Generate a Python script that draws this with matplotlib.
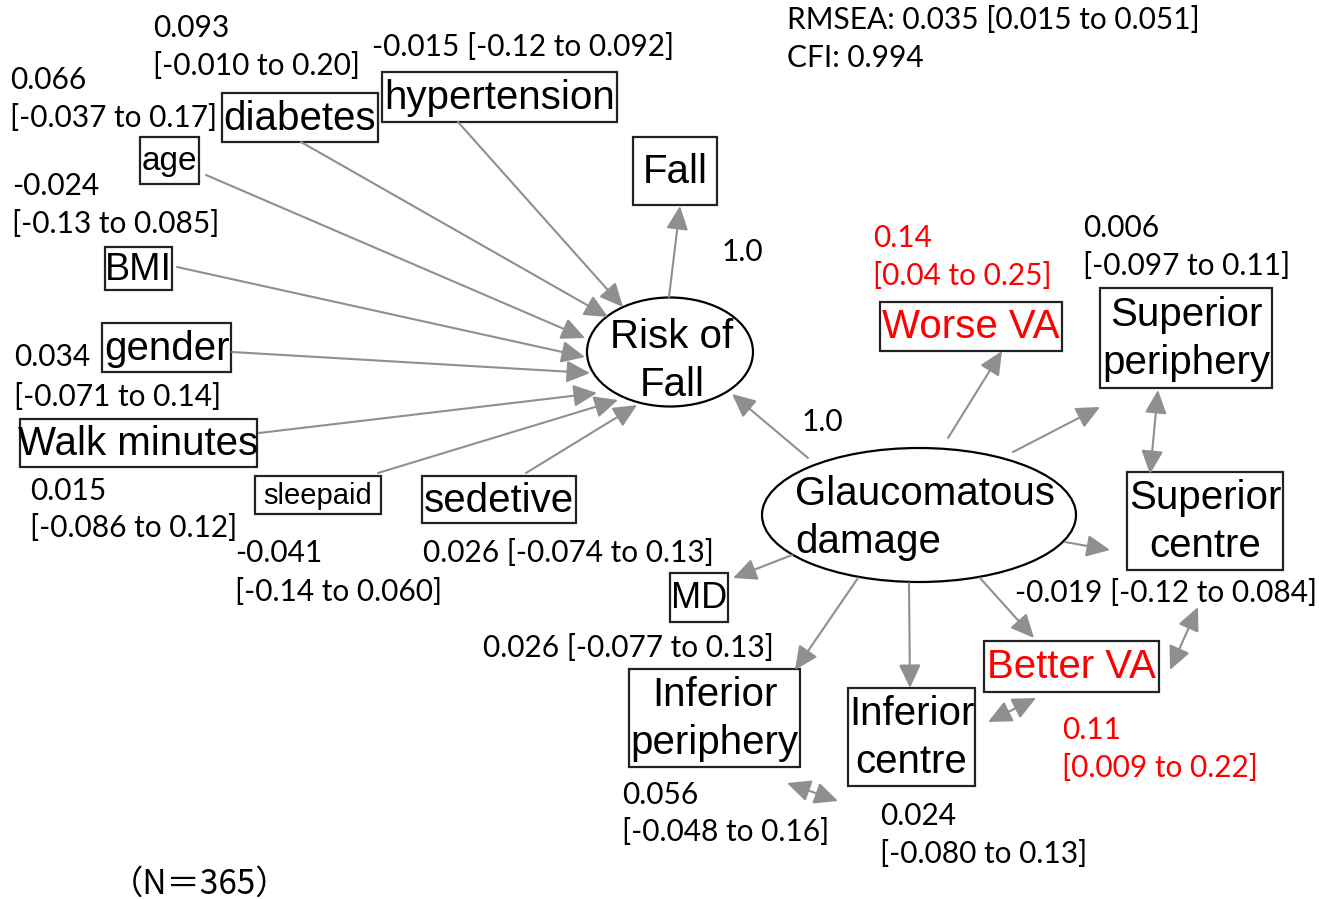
import matplotlib
matplotlib.use("Agg")
from matplotlib import pyplot as plt
from matplotlib.patches import Rectangle, Ellipse

plt.rcParams['font.family'] = ['Liberation Sans', 'DejaVu Sans']

# ---- data ----
predictors = ["hypertension", "diabetes", "age", "BMI", "gender",
              "Walk minutes", "sleepaid", "sedetive"]
pred_est = ["-0.015", "0.093", "0.066", "-0.024", "0.034", "0.015", "-0.041", "0.026"]
pred_lo = ["-0.12", "-0.010", "-0.037", "-0.13", "-0.071", "-0.086", "-0.14", "-0.074"]
pred_hi = ["0.092", "0.20", "0.17", "0.085", "0.14", "0.12", "0.060", "0.13"]

indicators = ["Worse VA", "Superior\nperiphery", "Superior\ncentre", "Better VA",
              "Inferior\ncentre", "Inferior\nperiphery", "MD"]
ind_est = ["0.14", "0.006", "-0.019", "0.11", "0.024", "0.056", "0.026"]
ind_lo = ["0.04", "-0.097", "-0.12", "0.009", "-0.080", "-0.048", "-0.077"]
ind_hi = ["0.25", "0.11", "0.084", "0.22", "0.13", "0.16", "0.13"]
ind_signif = [True, False, False, True, False, False, False]

loading_fall = "1.0"
loading_glauc = "1.0"
rmsea = "0.035"
rmsea_lo = "0.015"
rmsea_hi = "0.051"
cfi = "0.994"
n_obs = 365

# ---- layout (pixel coords, y down) ----
BOX = {
    "hypertension": (382, 72, 617, 122, 29),
    "diabetes": (222, 93, 378, 142, 29),
    "age": (140, 137, 199, 184, 24),
    "BMI": (105, 247, 172, 290, 27),
    "gender": (102, 323, 231, 372, 29),
    "Walk minutes": (20, 419, 257, 467, 29),
    "sleepaid": (255, 476, 381, 514, 21),
    "sedetive": (422, 476, 576, 523, 29),
    "Fall": (633, 137, 717, 205, 29),
    "Worse VA": (880, 302, 1062, 351, 29),
    "Superior\nperiphery": (1100, 288, 1272, 388, 29),
    "Superior\ncentre": (1127, 472, 1283, 570, 29),
    "Better VA": (984, 641, 1159, 692, 29),
    "Inferior\ncentre": (848, 688, 975, 786, 29),
    "Inferior\nperiphery": (629, 669, 800, 767, 29),
    "MD": (670, 573, 728, 622, 26),
}
# predictor arrow: start, tip
PRED_ARROW = [((458, 122), (623, 307)), ((301, 142), (608, 317)),
              ((206, 175), (585, 338)), ((177, 267), (585, 357)),
              ((232, 352), (590, 373)), ((259, 433), (597, 393)),
              ((378, 473), (618, 400)), ((526, 473), (637, 405))]
# label position: (x, y est, y ci, one line?)
PRED_LABEL = [(372, 47, 47, True), (153, 28, 66, False), (10, 80, 118, False),
              (12, 186, 224, False), (14, 357, 397, False), (30, 491, 528, False),
              (235, 553, 592, False), (423, 553, 553, True)]
IND_ARROW = [((948, 438), (1002, 351)), ((1013, 452), (1100, 407)),
             ((1065, 542), (1110, 550)), ((980, 578), (1034, 638)),
             ((909, 583), (910, 688)), ((858, 578), (795, 670)),
             ((792, 555), (733, 578))]
IND_LABEL = [(873, 238, 276, False), (1083, 228, 266, False), (1015, 593, 593, True),
             (1062, 730, 768, False), (880, 816, 854, False), (622, 795, 832, False),
             (483, 648, 648, True)]
COV_ARROW = [((1158, 390), (1150, 474)), ((1198, 607), (1170, 670)),
             ((1036, 698), (988, 722)), ((787, 783), (838, 801))]

GREY = "#8f8f8f"
NUMFONT = ['Lato', 'DejaVu Sans']
NUMSIZE = 21.5

fig = plt.figure(figsize=(13.19, 8.99), dpi=100)
ax = fig.add_axes([0, 0, 1, 1])
ax.set_xlim(0, 1319)
ax.set_ylim(899, 0)
ax.axis('off')


def arrow(p0, p1, both=False):
    style = '<|-|>' if both else '-|>'
    ax.annotate("", xy=p1, xytext=p0,
                arrowprops=dict(arrowstyle=style + ",head_length=0.6,head_width=0.28",
                                color=GREY, lw=1.5, shrinkA=0, shrinkB=0,
                                mutation_scale=24))


def box(name, color="black"):
    x0, y0, x1, y1, fs = BOX[name]
    ax.add_patch(Rectangle((x0, y0), x1 - x0, y1 - y0, fill=False,
                           edgecolor="#222222", lw=1.6, zorder=3))
    ax.text((x0 + x1) / 2, (y0 + y1) / 2 + 1, name, ha='center', va='center',
            fontsize=fs, color=color, linespacing=1.32, zorder=4)


def coef(x, y1, y2, est, lo, hi, one_line, color="black"):
    ci = "[{} to {}]".format(lo, hi)
    if one_line:
        ax.text(x, y1, est + " " + ci, ha='left', va='center', fontsize=NUMSIZE,
                family=NUMFONT, color=color)
    else:
        ax.text(x, y1, est, ha='left', va='center', fontsize=NUMSIZE,
                family=NUMFONT, color=color)
        ax.text(x, y2, ci, ha='left', va='center', fontsize=NUMSIZE,
                family=NUMFONT, color=color)


# latent variables
ax.add_patch(Ellipse((670, 352), 166, 109, fill=False, edgecolor="black", lw=1.6, zorder=3))
ax.text(672, 361, "Risk of\nFall", ha='center', va='center', fontsize=29,
        linespacing=1.32, zorder=4)
ax.add_patch(Ellipse((919, 515), 314, 134, fill=False, edgecolor="black", lw=1.6, zorder=3))
ax.text(795, 518, "Glaucomatous\ndamage", ha='left', va='center', fontsize=29,
        multialignment='left', linespacing=1.35, zorder=4)

# predictors of fall risk
for i, name in enumerate(predictors):
    box(name)
    arrow(*PRED_ARROW[i])
    x, y1, y2, one = PRED_LABEL[i]
    coef(x, y1, y2, pred_est[i], pred_lo[i], pred_hi[i], one)

box("Fall")
arrow((669, 297), (680, 206))
ax.text(722, 252, loading_fall, ha='left', va='center', fontsize=NUMSIZE, family=NUMFONT)

# glaucomatous damage
arrow((808, 458), (732, 394))
ax.text(802, 422, loading_glauc, ha='left', va='center', fontsize=NUMSIZE, family=NUMFONT)

for i, name in enumerate(indicators):
    col = "red" if ind_signif[i] else "black"
    box(name, col)
    arrow(*IND_ARROW[i])
    x, y1, y2, one = IND_LABEL[i]
    coef(x, y1, y2, ind_est[i], ind_lo[i], ind_hi[i], one, col)

for p0, p1 in COV_ARROW:
    arrow(p0, p1, both=True)

ax.text(787, 20, "RMSEA: {} [{} to {}]".format(rmsea, rmsea_lo, rmsea_hi),
        ha='left', va='center', fontsize=NUMSIZE, family=NUMFONT)
ax.text(787, 58, "CFI: {}".format(cfi), ha='left', va='center', fontsize=NUMSIZE,
        family=NUMFONT)
ax.text(110, 884, "（N＝{}）".format(n_obs), ha='left', va='center', fontsize=24,
        family=['Noto Sans CJK JP', 'DejaVu Sans'])

plt.savefig("out.png", dpi=100)
